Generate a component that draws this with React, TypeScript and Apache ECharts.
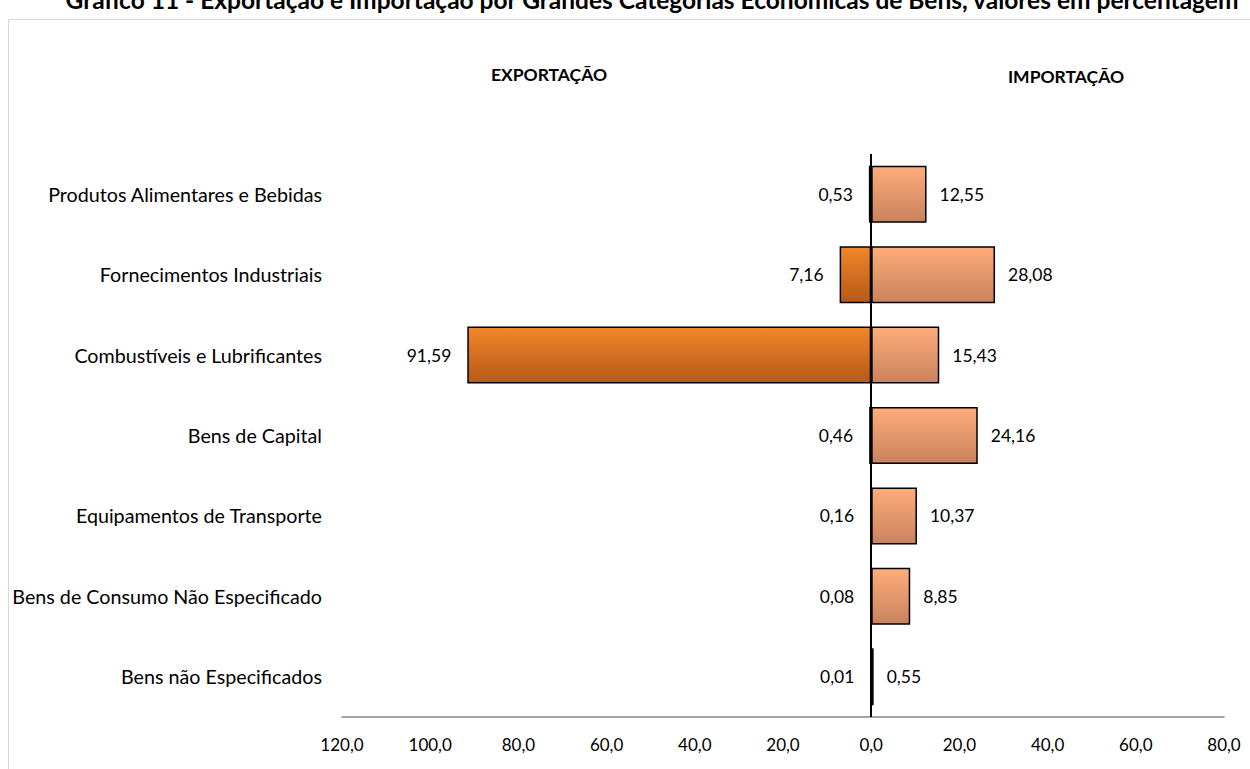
import React, { useEffect, useRef } from "react";
import * as echarts from "echarts";

const categories = [
  "Produtos Alimentares e Bebidas",
  "Fornecimentos Industriais",
  "Combustíveis e Lubrificantes",
  "Bens de Capital",
  "Equipamentos de Transporte",
  "Bens de Consumo Não Especificado",
  "Bens não Especificados",
];
const exportacao = [0.53, 7.16, 91.59, 0.46, 0.16, 0.08, 0.01];
const importacao = [12.55, 28.08, 15.43, 24.16, 10.37, 8.85, 0.55];
const axisMin = -120;
const axisMax = 80;
const axisStep = 20;

const title =
  "Gráfico 11 - Exportação e Importação por Grandes Categorias Económicas de Bens, valores em percentagem";

const fmt2 = (v: number) => Math.abs(v).toFixed(2).replace(".", ",");
const fmt1 = (v: number) => Math.abs(v).toFixed(1).replace(".", ",");

export default function App() {
  const ref = useRef<HTMLDivElement>(null);
  useEffect(() => {
    if (!ref.current) return;
    const chart = echarts.init(ref.current, undefined, { renderer: "svg" });
    const font = "Lato, 'Open Sans', sans-serif";
    chart.setOption({
      animation: false,
      backgroundColor: "#ffffff",
      textStyle: { fontFamily: font },
      grid: { left: 342, right: 26, top: 154, bottom: 52, containLabel: false },
      graphic: [
        {
          type: "rect",
          shape: { x: 8.5, y: 19.5, width: 1300, height: 800 },
          style: { fill: "none", stroke: "#d9d9d9", lineWidth: 1 },
          silent: true,
        },
        {
          type: "text",
          x: 652,
          y: 12,
          style: {
            text: title,
            fontFamily: font,
            fontWeight: "bold",
            fontSize: 24.5,
            fill: "#000",
            align: "center",
            verticalAlign: "bottom",
          },
        },
        {
          type: "text",
          x: 549,
          y: 74,
          style: {
            text: "EXPORTAÇÃO",
            fontFamily: font,
            fontWeight: "bold",
            fontSize: 17.5,
            fill: "#000",
            align: "center",
            verticalAlign: "middle",
          },
        },
        {
          type: "text",
          x: 1066,
          y: 76,
          style: {
            text: "IMPORTAÇÃO",
            fontFamily: font,
            fontWeight: "bold",
            fontSize: 17.5,
            fill: "#000",
            align: "center",
            verticalAlign: "middle",
          },
        },
      ],
      xAxis: {
        type: "value",
        min: axisMin,
        max: axisMax,
        interval: axisStep,
        axisLine: { show: true, onZero: false, lineStyle: { color: "#868686", width: 1.5 } },
        axisTick: { show: false },
        splitLine: { show: false },
        axisLabel: {
          margin: 19,
          fontSize: 17,
          color: "#000",
          fontFamily: font,
          formatter: (v: number) => fmt1(v),
        },
      },
      yAxis: {
        type: "category",
        inverse: true,
        data: categories,
        axisLine: { show: false },
        axisTick: { show: false },
        axisLabel: { margin: 20, fontSize: 19.7, color: "#000", fontFamily: font },
      },
      series: [
        {
          name: "Exportação",
          type: "bar",
          data: exportacao.map((v) => -v),
          barWidth: 57,
          barGap: "-100%",
          itemStyle: {
            color: new echarts.graphic.LinearGradient(0, 0, 0, 1, [
              { offset: 0, color: "#F2862B" },
              { offset: 1, color: "#B55A17" },
            ]),
            borderColor: "#000",
            borderWidth: 1.5,
          },
          label: {
            show: true,
            position: "left",
            distance: 16,
            fontSize: 17.5,
            color: "#000",
            fontFamily: font,
            formatter: (p: any) => fmt2(p.value),
          },
        },
        {
          name: "Importação",
          type: "bar",
          data: importacao,
          barWidth: 57,
          barGap: "-100%",
          itemStyle: {
            color: new echarts.graphic.LinearGradient(0, 0, 0, 1, [
              { offset: 0, color: "#FFAC7A" },
              { offset: 1, color: "#C9835F" },
            ]),
            borderColor: "#000",
            borderWidth: 1.5,
          },
          label: {
            show: true,
            position: "right",
            distance: 13,
            fontSize: 17.5,
            color: "#000",
            fontFamily: font,
            formatter: (p: any) => fmt2(p.value),
          },
          markLine: {
            silent: true,
            symbol: "none",
            label: { show: false },
            lineStyle: { color: "#000", width: 2, type: "solid" },
            data: [{ xAxis: 0 }],
          },
        },
      ],
    });
    return () => chart.dispose();
  }, []);
  return (
    <div
      ref={ref}
      style={{ position: "fixed", left: 0, top: 0, width: 1250, height: 769 }}
    />
  );
}
